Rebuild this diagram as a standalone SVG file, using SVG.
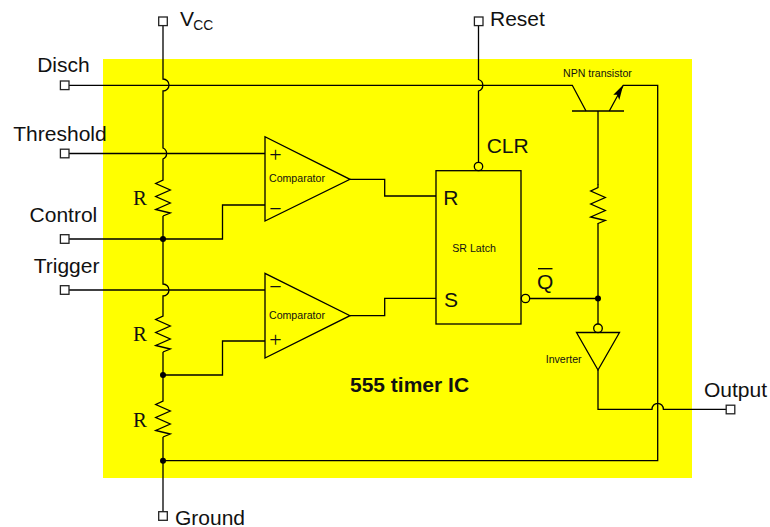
<svg xmlns="http://www.w3.org/2000/svg" width="770" height="527" viewBox="0 0 770 527">
<style>
.w{fill:none;stroke:#000;stroke-width:1.3;stroke-linejoin:miter}
.s{fill:none;stroke:#000;stroke-width:1.3}
.t{fill:#fff;stroke:#222;stroke-width:1.3}
.d{fill:#000}
text{fill:#111;font-family:"Liberation Sans",Arial,sans-serif}
.l{font-size:21px}
.m{font-size:10.6px}
.r{font-family:"Liberation Serif","Times New Roman",serif;font-size:20.8px}
.p{font-family:"Liberation Serif","Times New Roman",serif;font-size:22px;text-anchor:middle}
</style>
<defs>
<rect id="term" x="-4.3" y="-4.3" width="8.6" height="8.6" class="t"/>
<path id="res" class="s" d="M0 0V3L-7.3 6.5 7.3 13-7.3 19.5 7.3 26-7.3 32.5 7.3 36 0 39"/>
</defs>
<rect id="ic-body" x="103" y="59" width="589" height="419" fill="#ff0"/>
<g id="connectors" class="w">
<path d="M163 21V79A6 6 0 0 1 163 91V148A6 6 0 0 1 163 159V177"/>
<path d="M163 216V284A6 6 0 0 1 163 296V313"/>
<path d="M163 352V398"/>
<path d="M163 437V516"/>
<path d="M65 85.3H572.3L586 111"/>
<path d="M65 153.5H265"/>
<path d="M65 239H222.5V205H265"/>
<path d="M65 290H265"/>
<path d="M163 375H222.5V341H265"/>
<path d="M350 179.3H384.7V196H436"/>
<path d="M350 315.7H384.7V298.3H436"/>
<path d="M478.5 21V79.5A6 6 0 0 1 478.5 91V162"/>
<path d="M530 298.5H598"/>
<path d="M598 111V185"/>
<path d="M598 223V324"/>
<path d="M598 370V409.3H652A5.7 6 0 0 1 663.4 409.3H730"/>
<path d="M163 460.7H657.7V85.3H623.3L609.3 111"/>
</g>
<circle class="d" cx="163" cy="239" r="3"/>
<circle class="d" cx="163" cy="375" r="3"/>
<circle class="d" cx="163" cy="460.7" r="3"/>
<circle class="d" cx="598" cy="298.5" r="3"/>
<g id="vcc"><use href="#term" x="163" y="21.3"/><text class="l" x="180" y="26">V</text><text x="193.3" y="30" font-size="13.8">CC</text></g>
<g id="reset"><use href="#term" x="478.7" y="21.3"/><text class="l" x="490" y="26">Reset</text></g>
<g id="disch"><use href="#term" x="64.7" y="85.3"/><text class="l" x="37.2" y="71.7">Disch</text></g>
<g id="threshold"><use href="#term" x="64.7" y="153.5"/><text class="l" x="13.3" y="140.7">Threshold</text></g>
<g id="control"><use href="#term" x="64.7" y="239"/><text class="l" x="29.6" y="221.7">Control</text></g>
<g id="trigger"><use href="#term" x="64.7" y="290"/><text class="l" x="33.7" y="272.7">Trigger</text></g>
<g id="ground"><use href="#term" x="163" y="516"/><text class="l" x="175" y="525">Ground</text></g>
<g id="output"><use href="#term" x="730.5" y="409.5"/><text class="l" x="704" y="396.7">Output</text></g>
<g id="r1"><use href="#res" x="163" y="177"/><text class="r" x="133" y="205">R</text></g>
<g id="r2"><use href="#res" x="163" y="313"/><text class="r" x="133" y="340.7">R</text></g>
<g id="r3"><use href="#res" x="163" y="398"/><text class="r" x="133" y="426.7">R</text></g>
<g id="r4"><use href="#res" x="598" y="184.5"/></g>
<g id="comparator1"><path class="s" d="M265 136.7V221L350 179.3Z"/><text class="p" x="275.5" y="161.5">+</text><text class="p" x="275.5" y="215.5">−</text><text class="m" x="269" y="182">Comparator</text></g>
<g id="comparator2"><path class="s" d="M265 273.3V358L350 315.7Z"/><text class="p" x="275.5" y="294">−</text><text class="p" x="275.5" y="347.3">+</text><text class="m" x="269" y="319">Comparator</text></g>
<g id="latch"><rect class="s" x="436" y="170.7" width="85" height="153.3"/><circle class="s" cx="478.5" cy="166.5" r="4.2"/><circle class="s" cx="525.5" cy="298.5" r="4.2"/>
<text class="l" x="443.3" y="205">R</text><text class="l" x="444" y="306.7">S</text><text class="m" x="452.3" y="251.7">SR Latch</text><text class="l" x="486.7" y="153">CLR</text><text class="l" x="537" y="288.7">Q</text><path class="s" d="M538 268.7H552.5"/></g>
<g id="transistor"><path class="s" d="M572 111H624"/><path class="d" d="M623.3 84.7L613.3 94.7 617.3 94.7 619.3 100Z"/><text class="m" x="563" y="76.7">NPN transistor</text></g>
<g id="inverter"><path class="s" d="M576.5 332.5H619.5L598 370Z"/><circle class="s" cx="598" cy="328.3" r="4.3"/><text class="m" x="545.7" y="362.7">Inverter</text></g>
<text id="title" x="350" y="392" font-weight="bold" font-size="21">555 timer IC</text>
</svg>
